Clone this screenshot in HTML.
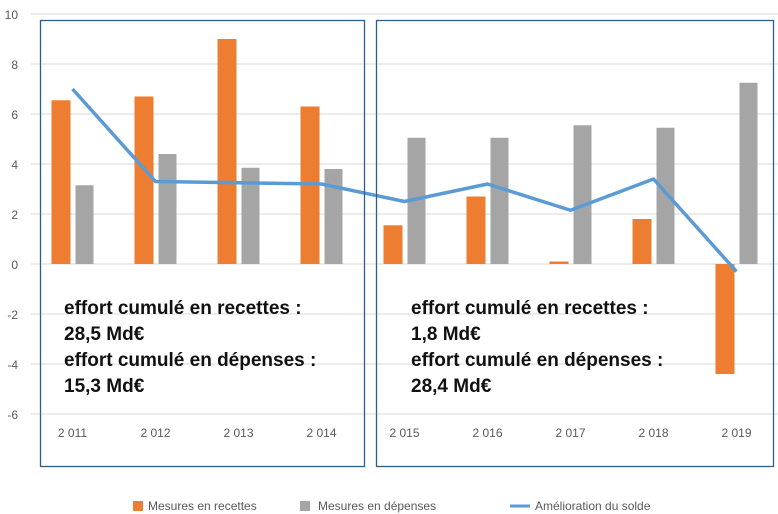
<!DOCTYPE html>
<html><head><meta charset="utf-8"><style>
body{margin:0;background:#fff;}
svg{display:block;font-family:"Liberation Sans",sans-serif;}
</style></head><body>
<svg id="chart" width="778" height="514">
<g id="grid"></g><g id="bars"></g><g id="line"></g><g id="axis"></g>
<rect x="40.5" y="20.5" width="324" height="446" fill="none" stroke="#2e5e8e" stroke-width="1.3"/>
<rect x="376.5" y="20.5" width="397" height="446" fill="none" stroke="#2e5e8e" stroke-width="1.3"/>
<g font-weight="bold" font-size="19" fill="#111" font-family="Liberation Sans, sans-serif">
<text x="64" y="314">effort cumulé en recettes :</text>
<text x="64" y="340">28,5 Md€</text>
<text x="64" y="366">effort cumulé en dépenses :</text>
<text x="64" y="392">15,3 Md€</text>
<text x="411" y="314">effort cumulé en recettes :</text>
<text x="411" y="340">1,8 Md€</text>
<text x="411" y="366">effort cumulé en dépenses :</text>
<text x="411" y="392">28,4 Md€</text>
</g>
<g font-size="12" fill="#595959">
<rect x="133" y="501" width="10" height="10" fill="#ed7d31"/>
<text x="148" y="510">Mesures en recettes</text>
<rect x="300" y="501" width="10" height="10" fill="#a5a5a5"/>
<text x="318" y="510">Mesures en dépenses</text>
<line x1="510" y1="506" x2="530" y2="506" stroke="#5b9bd5" stroke-width="3"/>
<text x="535" y="510">Amélioration du solde</text>
</g>
</svg>
<script>
const categories=["2 011","2 012","2 013","2 014","2 015","2 016","2 017","2 018","2 019"];
const recettes=[6.55,6.7,9.0,6.3,1.55,2.7,0.1,1.8,-4.4];
const depenses=[3.15,4.4,3.85,3.8,5.05,5.05,5.55,5.45,7.25];
const solde=[7.0,3.3,3.25,3.2,2.5,3.2,2.15,3.4,-0.3];
const yTicks=[10,8,6,4,2,0,-2,-4,-6];
const NS="http://www.w3.org/2000/svg";
const y=v=>264-v*25;
const xc=i=>72.5+i*83;
function mk(p,t,a){const e=document.createElementNS(NS,t);for(const k in a)e.setAttribute(k,a[k]);document.getElementById(p).appendChild(e);return e;}
yTicks.forEach(t=>{
 const l=mk('grid','line',{x1:31,x2:778,y1:y(t),y2:y(t),stroke:'#d9d9d9','stroke-width':1});
 
 
 const tx=mk('axis','text',{x:18,y:y(t)+5,'text-anchor':'end','font-size':12,fill:'#595959'});
 tx.textContent=t;
 
 
});
categories.forEach((c,i)=>{
 const tx=mk('axis','text',{x:xc(i),y:437,'text-anchor':'middle','font-size':12,fill:'#595959'});
 tx.textContent=c;
 
 
 const r=recettes[i];
 const b=mk('bars','rect',{x:xc(i)-21,width:19,y:Math.min(y(r),y(0)),height:Math.abs(y(r)-y(0)),fill:'#ed7d31'});
 
 
 const d=depenses[i];
 const g=mk('bars','rect',{x:xc(i)+3,width:18,y:Math.min(y(d),y(0)),height:Math.abs(y(d)-y(0)),fill:'#a5a5a5'});
 
 
});
const pl=mk('line','polyline',{points:solde.map((v,i)=>xc(i)+','+y(v)).join(' '),fill:'none',stroke:'#5b9bd5','stroke-width':3.5,'stroke-linejoin':'round'});


</script>
</body></html>
